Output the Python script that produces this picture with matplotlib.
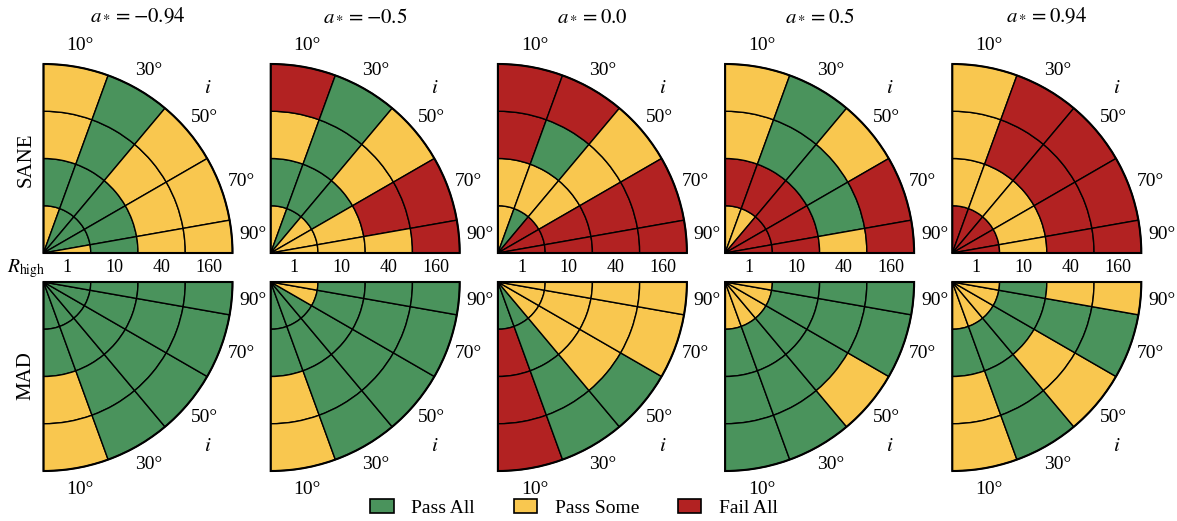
import numpy as np
import matplotlib
matplotlib.use('Agg')
import matplotlib.pyplot as plt
from matplotlib.patches import Wedge, Patch

plt.rcParams['font.family'] = ['Liberation Serif', 'DejaVu Serif']
plt.rcParams['mathtext.fontset'] = 'stix'

# ---------------- data ----------------
spin_labels = ['-0.94', '-0.5', '0.0', '0.5', '0.94']
models = ['SANE', 'MAD']
inclinations = [10, 30, 50, 70, 90]
rhigh = [1, 10, 40, 160]
categories = ['Pass All', 'Pass Some', 'Fail All']
cat_colors = ['#4A935C', '#F9C74F', '#B22222']

G, Y, R = 0, 1, 2
# rows: inclination 10,30,50,70,90 ; columns: Rhigh 1,10,40,160
sane_m094 = [[Y, G, Y, Y], [G, G, G, G], [G, G, Y, Y], [G, G, Y, Y], [Y, G, Y, Y]]
sane_m05 = [[Y, G, Y, R], [G, G, G, G], [Y, G, Y, Y], [Y, Y, R, R], [Y, Y, Y, R]]
sane_00 = [[Y, Y, R, R], [G, Y, G, R], [R, Y, Y, Y], [R, R, R, R], [R, R, R, R]]
sane_p05 = [[Y, R, Y, Y], [Y, R, G, G], [R, R, G, Y], [R, R, G, R], [R, R, Y, R]]
sane_p094 = [[R, Y, Y, Y], [R, Y, R, R], [R, Y, R, R], [R, Y, R, R], [R, Y, R, R]]

mad_m094 = [[G, G, Y, Y], [G, G, G, G], [G, G, G, G], [G, G, G, G], [G, G, G, G]]
mad_m05 = [[G, G, Y, Y], [G, G, G, G], [G, G, G, G], [Y, G, G, G], [Y, G, G, G]]
mad_00 = [[G, R, R, R], [G, G, G, G], [Y, Y, Y, G], [Y, Y, Y, Y], [Y, Y, Y, Y]]
mad_p05 = [[Y, G, G, G], [Y, G, G, G], [Y, G, G, Y], [Y, G, G, G], [Y, G, G, G]]
mad_p094 = [[Y, G, Y, Y], [Y, G, G, G], [Y, G, Y, Y], [Y, G, G, G], [Y, G, Y, Y]]

status = {
    'SANE': [sane_m094, sane_m05, sane_00, sane_p05, sane_p094],
    'MAD': [mad_m094, mad_m05, mad_00, mad_p05, mad_p094],
}

# ---------------- layout ----------------
W, H = 1177, 521
fig = plt.figure(figsize=(W / 100, H / 100), dpi=100)

size_px = 189.0
lefts_px = [43.5 + 227.2 * k for k in range(5)]
bottoms_px = {'SANE': H - 253.0, 'MAD': H - 282.0 - size_px}

inc = np.array(inclinations, dtype=float)
edges = np.concatenate([[0.0], (inc[:-1] + inc[1:]) / 2, [90.0]])
centers = (edges[:-1] + edges[1:]) / 2
nr = len(rhigh)
FS = 14

for m in models:
    top = (m == 'SANE')
    for k in range(5):
        ax = fig.add_axes([lefts_px[k] / W, bottoms_px[m] / H, size_px / W, size_px / H])
        ax.set_xlim(0, nr)
        if top:
            ax.set_ylim(0, nr)
        else:
            ax.set_ylim(-nr, 0)
        ax.axis('off')
        grid = status[m][k]

        def ang(i):
            return 90 - i if top else i - 90

        for a in range(len(inclinations)):
            lo, hi = edges[a], edges[a + 1]
            t1, t2 = (ang(hi), ang(lo)) if top else (ang(lo), ang(hi))
            for j in range(nr):
                w = Wedge((0, 0), j + 1, t1, t2, width=1,
                          facecolor=cat_colors[grid[a][j]], edgecolor='black',
                          linewidth=1.0, clip_on=False)
                ax.add_patch(w)
        # outer outline
        t1, t2 = (0, 90) if top else (-90, 0)
        ax.add_patch(Wedge((0, 0), nr, t1, t2, facecolor='none', edgecolor='black',
                           linewidth=1.5, clip_on=False, zorder=3))

        # inclination labels
        for a, i in enumerate(inclinations):
            th = np.deg2rad(ang(centers[a]))
            ax.text(4.45 * np.cos(th), 4.45 * np.sin(th), f'{i}°',
                    ha='center', va='center', fontsize=FS)
        th = np.deg2rad(ang(45))
        ax.text(4.92 * np.cos(th), 4.92 * np.sin(th), '$i$',
                ha='center', va='center', fontsize=FS + 1)

        if top:
            ax.text(0.5, 1.25, f'$a_* = {spin_labels[k]}$', transform=ax.transAxes,
                    ha='center', va='center', fontsize=FS + 1)
            for j, rh in enumerate(rhigh):
                ax.text(j + 0.5, -0.4, str(rh), ha='center', va='baseline', fontsize=FS - 1)
            if k == 0:
                ax.text(-0.36, -0.4, r'$R_{\rm high}$', ha='center', va='baseline',
                        fontsize=FS)

fig.text(26 / W, 1 - 160 / H, 'SANE', rotation=90, ha='center', va='center', fontsize=FS + 1)
fig.text(26 / W, 1 - 376 / H, 'MAD', rotation=90, ha='center', va='center', fontsize=FS + 1)

handles = [Patch(facecolor=c, edgecolor='black', linewidth=1.2) for c in cat_colors]
fig.legend(handles, categories, loc='center', bbox_to_anchor=(574 / W, 1 - 508 / H),
           ncol=3, frameon=False, fontsize=FS, handlelength=1.2, handleheight=0.7,
           handletextpad=0.9, columnspacing=2.0)

fig.savefig('out.png', dpi=100)
